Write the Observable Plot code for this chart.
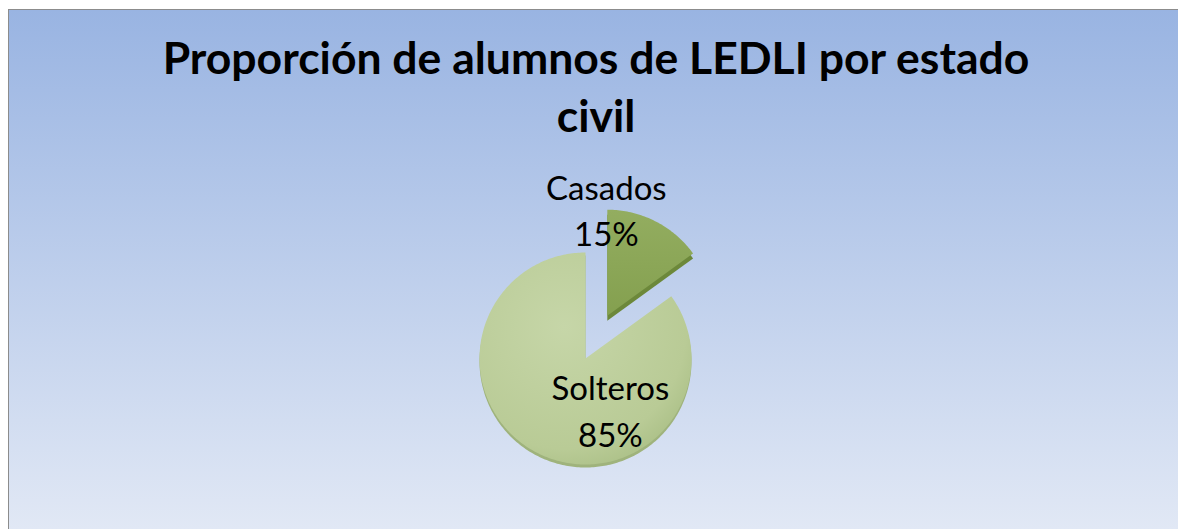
<!DOCTYPE html>
<html><head><meta charset="utf-8">
<script src="https://cdn.jsdelivr.net/npm/d3@7"></script>
<script src="https://cdn.jsdelivr.net/npm/@observablehq/plot@0.6"></script>
<style>
html,body{margin:0;padding:0;width:1178px;height:529px;overflow:hidden;background:#fff;}
#chart{position:absolute;left:8px;top:9px;width:1169px;height:519px;border-left:1px solid #8c8c8c;border-top:1px solid #8c8c8c;background:linear-gradient(to bottom,#99b4e2,#e1e8f5);font-family:Lato,sans-serif;}
#title{margin:0;padding-top:18px;padding-left:5px;height:118px;font-size:44.5px;line-height:58px;font-weight:700;text-align:center;color:#000;}
#plot svg{display:block;}
</style></head><body>
<div id="chart"><div id="title">Proporción de alumnos de LEDLI por estado<br>civil</div><div id="plot"></div></div>
<script>
// Data
const categories = ["Casados", "Solteros"];
const values = [15, 85];
const percentLabels = ["15%", "85%"];
const explodedCategory = "Casados";

// Layout (page pixel units)
const CX = 585, CY = 358, R = 106, EXPLODE = 48;
const W = 1169, TOP = 146, H = 529 - TOP;

const arcs = d3.pie().sort(null).value(d => d)(values);
const slicePts = [];
const labelData = [];
arcs.forEach((p, i) => {
  const cat = categories[i];
  const mid = (p.startAngle + p.endAngle) / 2;
  const off = cat === explodedCategory ? EXPLODE : 0;
  const ox = CX + off * Math.sin(mid), oy = CY - off * Math.cos(mid);
  slicePts.push({cat, x: ox, y: oy});
  const n = Math.ceil((p.endAngle - p.startAngle) / (Math.PI / 180));
  for (let k = 0; k <= n; k++) {
    const a = p.startAngle + (p.endAngle - p.startAngle) * k / n;
    slicePts.push({cat, x: ox + R * Math.sin(a), y: oy - R * Math.cos(a)});
  }
  slicePts.push({cat, x: ox, y: oy});
  labelData.push({cat, text: cat + "\n" + percentLabels[i], x: ox + 0.5 * R * Math.sin(mid), y: oy - 0.5 * R * Math.cos(mid)});
});

const only = c => d => d.cat === c;
const plot = Plot.plot({
  width: W, height: H,
  margin: 0,
  style: {background: "transparent", overflow: "visible"},
  x: {domain: [9, 9 + W], axis: null},
  y: {domain: [529, TOP], axis: null},
  marks: [
    Plot.line(slicePts, {filter: only("Solteros"), x: "x", y: "y", fill: "#9fb37c", stroke: "none", dy: 3}),
    Plot.line(slicePts, {filter: only("Solteros"), x: "x", y: "y", fill: "url(#gS)", stroke: "none"}),
    Plot.line(slicePts, {filter: only("Casados"), x: "x", y: "y", fill: "#6c883a", stroke: "none", dy: 5}),
    Plot.line(slicePts, {filter: only("Casados"), x: "x", y: "y", fill: "url(#gC)", stroke: "none"}),
    Plot.text(labelData, {filter: only("Casados"), x: "x", y: "y", text: "text", dx: -25, dy: -60, fontSize: 33, lineHeight: 1.4, fontFamily: "Lato", fill: "#000"}),
    Plot.text(labelData, {filter: only("Solteros"), x: "x", y: "y", text: "text", dx: 49, dy: 3, fontSize: 33, lineHeight: 1.42, fontFamily: "Lato", fill: "#000"})
  ]
});

const svg = d3.select(plot);
const defs = svg.insert("defs", ":first-child");
const gS = defs.append("radialGradient").attr("id", "gS").attr("cx", "40%").attr("cy", "35%").attr("r", "72%");
gS.append("stop").attr("offset", "0%").attr("stop-color", "#c6d6a8");
gS.append("stop").attr("offset", "80%").attr("stop-color", "#b9cb96");
gS.append("stop").attr("offset", "100%").attr("stop-color", "#aabf86");
const gC = defs.append("linearGradient").attr("id", "gC").attr("x1", "0").attr("y1", "0").attr("x2", "0").attr("y2", "1");
gC.append("stop").attr("offset", "0%").attr("stop-color", "#93ad60");
gC.append("stop").attr("offset", "100%").attr("stop-color", "#84a04f");

document.getElementById("plot").appendChild(plot);
</script>
</body></html>
